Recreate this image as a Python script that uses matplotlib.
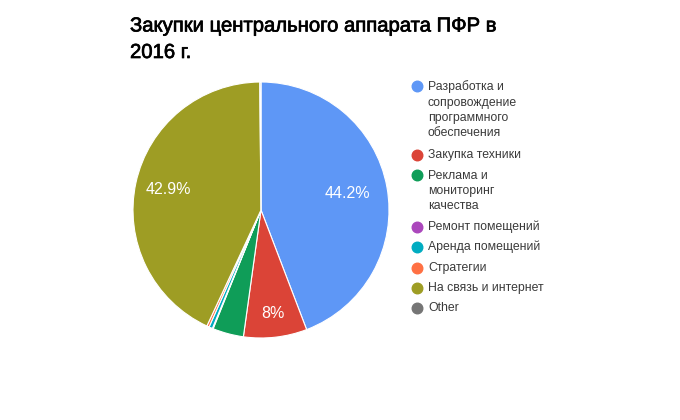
import matplotlib
matplotlib.use("Agg")
import numpy as np
import matplotlib.pyplot as plt
from matplotlib.lines import Line2D
import matplotlib.patheffects as pe

plt.rcParams['font.family'] = ['Liberation Sans', 'DejaVu Sans']

categories = ["Разработка и\nсопровождение\nпрограммного\nобеспечения",
              "Закупка техники",
              "Реклама и\nмониторинг\nкачества",
              "Ремонт помещений",
              "Аренда помещений",
              "Стратегии",
              "На связь и интернет",
              "Other"]
values = [44.2, 8.0, 3.9, 0.1, 0.45, 0.3, 42.9, 0.15]
colors = ["#5e97f6", "#db4437", "#0f9d58", "#ab47bc", "#00acc1", "#ff7043", "#9e9d24", "#757575"]
title_lines = ["Закупки центрального аппарата ПФР в", "2016 г."]

fig = plt.figure(figsize=(6.8, 4.2), dpi=100)
cx, cy, r = 261, 210, 128
ax = fig.add_axes([(cx - r) / 680, (420 - cy - r) / 420, 2 * r / 680, 2 * r / 420])

wedges, _ = ax.pie(values, colors=colors, startangle=90, counterclock=False,
                   wedgeprops=dict(edgecolor="white", linewidth=0.8))
label_dist = [0.69, 0.81, 0, 0, 0, 0, 0.74, 0]
total = sum(values)
for w, v, d in zip(wedges, values, label_dist):
    if v / total < 0.05:
        continue
    ang = np.deg2rad((w.theta1 + w.theta2) / 2)
    pct = 100 * v / total
    txt = f"{pct:.0f}%" if abs(pct - round(pct)) < 0.05 else f"{pct:.1f}%"
    ax.text(d * np.cos(ang), d * np.sin(ang), txt, color="white", fontsize=11.5,
            ha='center', va='center')
ax.set_xlim(-1, 1)
ax.set_ylim(-1, 1)
ax.set_aspect('equal')
ax.axis('off')

for i, tl in enumerate(title_lines):
    fig.text(130 / 680, 1 - (26 + 26.5 * i) / 420, tl, fontsize=14.6, color="#000000",
             va='center', ha='left',
             path_effects=[pe.withStroke(linewidth=0.5, foreground="#000000")])

# legend
row_y = [86, 155, 175, 227, 247, 268, 288, 308]
line_h = 16
for cat, col, y in zip(categories, colors, row_y):
    lines = cat.split("\n")
    fig.add_artist(Line2D([417 / 680], [1 - y / 420], marker='o', markersize=7.6,
                          markerfacecolor=col, markeredgecolor=col, transform=fig.transFigure))
    fig.text(428 / 680, 1 - (y + (len(lines) - 1) * line_h / 2) / 420, cat, fontsize=8.8,
             color="#3a3a3a", ha='left', va='center', linespacing=1.37)

fig.savefig("out.png", dpi=100, facecolor="white")
